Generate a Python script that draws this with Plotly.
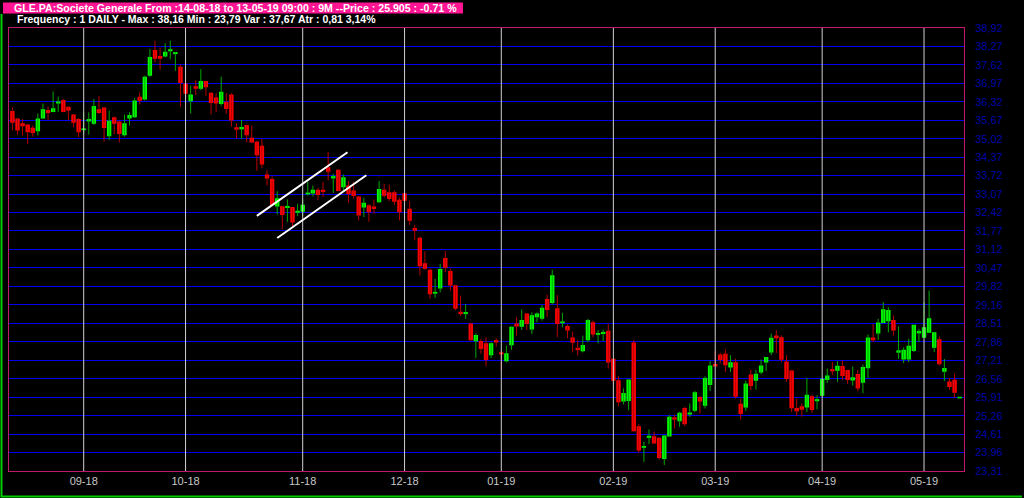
import plotly.graph_objects as go

# ---- data (trading-day index 0 = 14-08-18 ... 186 = 13-05-19) ----
opens = [35.97,35.71,35.54,35.50,35.38,35.30,35.75,36.01,35.98,36.28,36.36,36.12,35.85,35.69,35.34,35.65,35.57,36.04,36.10,35.13,
         35.75,35.60,35.16,35.75,35.80,36.48,36.42,37.26,38.12,37.91,37.94,38.12,38.02,37.53,36.94,36.36,36.85,36.80,37.03,36.62,
         36.45,36.26,36.30,36.56,35.40,35.37,35.48,35.03,34.89,34.75,33.74,33.58,32.65,32.62,32.60,32.59,32.43,32.47,33.08,33.11,
         33.20,33.20,33.99,33.64,33.90,33.33,33.35,33.17,32.96,32.62,32.65,32.61,32.80,33.20,33.11,33.11,32.85,33.08,32.53,31.85,
         31.51,30.61,30.38,29.58,29.76,30.79,30.34,29.83,28.90,28.86,28.49,27.90,27.87,27.79,27.41,27.90,27.47,27.20,27.76,28.49,
         28.41,28.84,28.32,28.75,28.70,29.35,29.25,29.02,28.54,28.40,27.99,27.63,27.55,27.94,28.53,28.13,28.16,28.23,27.24,26.49,
         25.78,25.80,27.82,24.87,24.15,24.50,24.51,24.46,23.75,24.55,25.18,25.08,25.51,25.32,25.45,25.90,25.63,26.36,27.06,27.39,
         27.42,26.98,27.12,25.66,25.57,26.69,26.51,26.80,27.15,27.51,28.06,28.00,27.15,26.83,25.51,25.57,25.57,25.92,25.79,25.98,
         26.54,26.88,26.86,26.99,26.85,26.52,26.71,26.44,26.95,27.99,28.18,28.55,28.61,28.61,27.50,27.26,27.26,27.56,28.18,28.03,
         28.20,27.67,27.93,26.83,26.44,26.50,25.89]
highs = [36.13,35.75,35.71,35.54,35.48,35.91,36.26,36.15,36.68,36.50,36.42,36.15,35.89,35.75,35.95,35.95,36.42,36.53,36.12,36.01,
         35.80,35.65,35.87,35.95,36.45,36.65,37.24,38.18,38.47,38.23,38.38,38.47,38.07,37.62,37.12,36.89,37.09,37.47,37.06,36.65,
         36.62,37.20,36.62,36.62,35.56,35.68,35.51,35.48,34.95,35.01,33.91,33.70,33.17,32.65,32.88,32.59,32.73,32.88,33.50,33.37,
         33.29,33.50,34.55,33.78,33.94,33.76,33.53,33.50,33.00,32.94,32.70,32.88,33.53,33.43,33.40,33.20,32.94,33.31,32.82,31.99,
         31.57,31.05,30.44,30.08,30.61,31.06,30.44,29.87,29.49,29.19,28.53,28.16,27.96,28.02,27.85,27.99,27.55,27.73,28.40,28.73,
         29.00,28.87,28.90,28.90,29.16,29.52,30.40,29.51,28.88,28.47,28.22,27.93,28.08,28.67,28.61,28.28,28.29,28.50,27.27,26.65,
         26.22,26.53,27.92,24.96,24.34,24.77,24.69,24.49,24.57,25.28,25.28,25.39,25.57,25.69,26.13,25.95,26.65,27.18,27.54,27.47,
         27.59,27.39,27.27,25.86,26.49,26.88,26.88,27.24,27.33,28.15,28.27,28.09,27.39,26.86,25.86,25.69,26.59,26.00,25.98,26.57,
         26.92,27.15,27.18,27.20,26.88,26.99,26.88,27.06,28.12,28.49,28.67,29.26,29.08,28.79,28.40,27.67,27.97,28.46,28.32,29.26,
         29.67,28.20,28.05,27.26,26.59,26.74,25.92]
lows = [35.31,35.16,35.13,34.83,35.09,35.13,35.71,35.68,35.95,35.97,35.95,35.68,35.42,35.07,35.18,35.16,35.50,35.89,34.91,34.97,
        35.18,34.89,35.09,35.48,35.75,36.22,36.36,37.20,37.71,37.45,37.88,37.82,37.41,36.15,36.36,35.91,36.56,36.73,36.53,35.87,
        35.95,36.18,35.89,35.44,35.03,35.01,34.89,34.86,33.89,33.98,33.37,32.67,32.35,31.82,32.09,31.91,32.29,32.29,33.02,32.99,
        32.85,32.96,33.55,33.11,33.17,33.17,32.76,32.90,32.14,32.26,32.09,32.38,32.76,32.94,32.82,32.68,32.14,32.70,31.99,31.44,
        30.20,30.40,29.38,29.41,29.61,30.32,29.67,28.97,28.78,28.67,27.90,27.29,27.44,27.00,27.29,27.69,26.85,27.14,27.58,28.08,
        28.28,28.28,28.14,28.55,28.61,28.73,29.17,28.02,28.37,27.99,27.49,27.38,27.49,27.85,28.02,27.81,27.89,26.92,26.33,25.59,
        25.66,25.45,24.69,23.95,23.63,24.26,24.26,23.72,23.52,24.54,24.81,24.87,24.89,25.22,25.39,25.34,25.51,26.13,26.98,27.10,
        26.80,26.80,25.86,25.12,25.43,26.16,26.18,26.72,26.84,27.39,27.47,27.15,26.45,25.39,25.24,25.22,25.39,25.36,25.48,25.92,
        26.41,26.69,26.45,26.52,26.38,26.32,26.12,26.05,26.59,27.85,27.93,28.52,28.20,28.08,27.26,27.11,27.15,27.50,27.85,28.00,
        28.17,27.50,27.03,26.48,26.17,25.89,25.88]
closes = [35.60,35.33,35.48,35.27,35.24,35.71,36.04,35.95,36.07,36.31,35.98,36.03,35.60,35.27,35.36,35.69,36.15,35.95,35.42,35.63,
          35.57,35.21,35.54,35.83,36.34,36.38,37.18,37.88,37.86,37.86,38.06,38.15,38.05,37.00,36.62,36.56,36.80,37.03,36.85,36.30,
          36.28,36.65,36.09,35.68,35.36,35.41,35.16,34.91,34.46,34.13,33.64,32.70,32.90,32.35,32.63,32.09,32.46,32.67,33.10,33.20,
          33.06,33.16,33.88,33.68,33.20,33.64,33.09,33.02,32.33,32.74,32.45,32.56,33.23,33.03,32.92,32.82,32.45,32.85,32.15,31.80,
          30.55,30.46,29.56,29.60,30.41,30.49,29.87,29.05,28.86,28.89,27.94,28.08,27.63,27.24,27.79,27.86,27.44,27.44,28.37,28.42,
          28.61,28.51,28.78,28.84,29.04,29.00,30.19,28.51,28.56,28.28,27.85,27.59,27.73,28.61,28.14,28.15,28.19,27.15,26.51,25.75,
          26.04,26.51,24.73,24.05,24.17,24.53,24.30,23.79,24.54,25.20,25.14,25.34,24.98,25.35,26.06,25.78,26.57,27.01,27.01,27.24,
          27.06,27.12,25.95,25.34,26.37,26.33,26.72,27.01,27.31,27.98,28.01,27.25,26.57,25.54,25.44,25.49,25.98,25.48,25.82,26.54,
          26.65,26.84,27.00,26.68,26.54,26.59,26.24,26.95,27.99,27.94,28.52,28.99,28.96,28.28,27.54,27.56,27.70,28.44,28.22,28.35,
          28.67,28.18,27.09,26.92,26.29,26.09,25.905]

month_idx = [14, 34, 57, 77, 96, 118, 138, 159, 179]
month_lbl = ["09-18", "10-18", "11-18", "12-18", "01-19", "02-19", "03-19", "04-19", "05-19"]

price_lbl = ["23,31", "23,96", "24,61", "25,26", "25,91", "26,56", "27,21", "27,86", "28,51", "29,16", "29,82",
             "30,47", "31,12", "31,77", "32,42", "33,07", "33,72", "34,37", "35,02", "35,67", "36,32", "36,97",
             "37,62", "38,27", "38,92"]

# drawn channel (index, price)
channel_lines = [((48.0, 32.30), (65.8, 34.54)), ((52.0, 31.52), (69.5, 33.73))]

title1 = "GLE.PA:Societe Generale From :14-08-18 to 13-05-19 09:00 : 9M --Price : 25.905 : -0.71 %"
title2 = "Frequency : 1 DAILY - Max : 38,16 Min : 23,79 Var : 37,67 Atr : 0,81 3,14%"

# ---- styling ----
UP_BODY, UP_WICK = "#00ff00", "#00a800"
DN_BODY, DN_WICK = "#ff0000", "#b80000"
W, H = 1024, 498
L, R, T, B = 9, 60, 28, 27
pw, ph = W - L - R, H - T - B

def px(x):  # pixel -> paper x
    return (x - L) / pw

def py(y):  # pixel -> paper y
    return (H - B - y) / ph

n = len(opens)
idx = list(range(n))
up = [closes[i] >= opens[i] for i in idx]

fig = go.Figure()
for is_up, wc in ((True, UP_WICK), (False, DN_WICK)):
    xs, ys = [], []
    for i in idx:
        if up[i] == is_up:
            xs += [i, i, None]
            ys += [lows[i], highs[i], None]
    fig.add_trace(go.Scatter(x=xs, y=ys, mode="lines", line=dict(color=wc, width=1),
                             hoverinfo="skip", connectgaps=False))

base = [min(opens[i], closes[i]) for i in idx]
hgt = [abs(closes[i] - opens[i]) for i in idx]
cols = [UP_BODY if u else DN_BODY for u in up]
fig.add_trace(go.Bar(x=idx, y=hgt, base=base, width=0.62,
                     marker=dict(color=cols, line=dict(color=cols, width=1.2)),
                     hoverinfo="skip"))

shapes = []
for m in month_idx:
    shapes.append(dict(type="line", xref="x", yref="paper", x0=m, x1=m, y0=0, y1=1,
                       line=dict(color="#d0d0d0", width=1), layer="above"))
for (a, b) in channel_lines:
    shapes.append(dict(type="line", xref="x", yref="y", x0=a[0], y0=a[1], x1=b[0], y1=b[1],
                       line=dict(color="white", width=2), layer="above"))
# title background
shapes.append(dict(type="rect", xref="paper", yref="paper", x0=px(3), x1=px(463), y0=py(13.5), y1=py(2.5),
                   fillcolor="#ff1493", line=dict(width=0), layer="above"))
# outer green frame (left and bottom edges)
shapes.append(dict(type="path", xref="paper", yref="paper",
                   path="M {:.5f},{:.5f} L {:.5f},{:.5f} L {:.5f},{:.5f}".format(
                       px(1.5), py(14), px(1.5), py(496.5), px(1022), py(496.5)),
                   line=dict(color="#00cc00", width=2), layer="above"))

fig.update_layout(
    width=W, height=H, margin=dict(l=L, r=R, t=T, b=B, autoexpand=False),
    paper_bgcolor="black", plot_bgcolor="black", showlegend=False,
    barmode="overlay", shapes=shapes,
    font=dict(family="Liberation Sans"),
    xaxis=dict(range=[-0.667, n - 0.15], tickvals=month_idx, ticktext=month_lbl, showgrid=False,
               zeroline=False, showline=True, mirror=True, linecolor="#c0186c", linewidth=1,
               ticks="", tickfont=dict(family="Liberation Sans", size=11, color="#c8c8c8"),
               fixedrange=True),
    yaxis=dict(range=[23.31, 38.92], side="right",
               tickvals=[float(t.replace(",", ".")) for t in price_lbl], ticktext=price_lbl,
               showgrid=True, gridcolor="#0000f0", gridwidth=1, zeroline=False,
               showline=True, mirror=True, linecolor="#c0186c", linewidth=1, ticks="",
               ticklabelstandoff=8,
               tickfont=dict(family="Liberation Sans", size=11, color="#0000a8"), fixedrange=True),
    annotations=[
        dict(text="<b>" + title1 + "</b>", xref="paper", yref="paper", x=px(12), y=py(8), xanchor="left",
             yanchor="middle", showarrow=False, font=dict(family="Liberation Sans", size=10.6, color="white")),
        dict(text="<b>" + title2 + "</b>", xref="paper", yref="paper", x=px(15), y=py(19.5), xanchor="left",
             yanchor="middle", showarrow=False, font=dict(family="Liberation Sans", size=10.5, color="white")),
    ],
)

fig.write_html("out.html", config={"displayModeBar": False},
               post_script="document.body.style.margin='0';document.body.style.background='black';")
